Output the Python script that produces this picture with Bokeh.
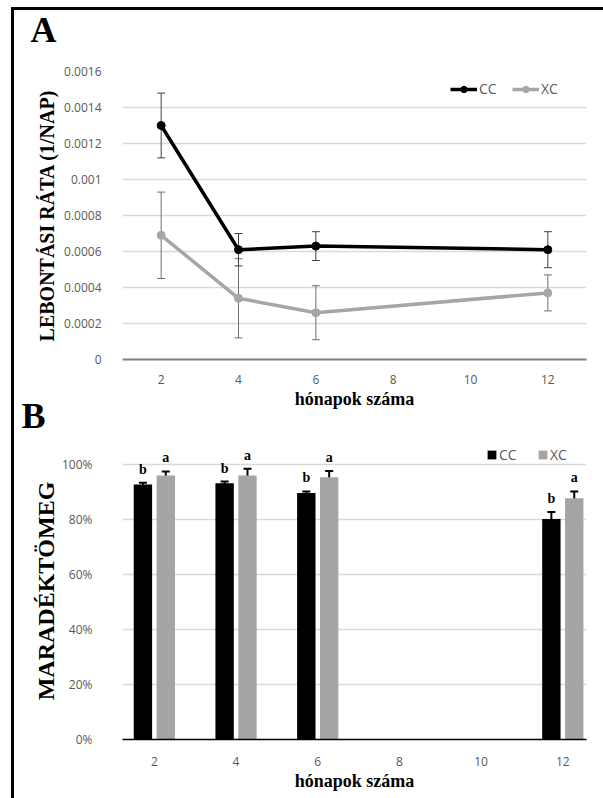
from bokeh.plotting import figure
from bokeh.models import (ColumnDataSource, FixedTicker, Whisker, TeeHead,
                          PrintfTickFormatter)
from bokeh.layouts import column
from bokeh.embed import file_html
from bokeh.resources import INLINE
from bokeh.core.properties import value
from bokeh.transform import dodge

# ---------------- data: panel A (decomposition rate) ----------------
months_a = [2, 4, 6, 12]
cc_rate = [0.00130, 0.00061, 0.00063, 0.00061]
cc_rate_err = [0.00018, 0.00009, 0.00008, 0.00010]
xc_rate = [0.00069, 0.00034, 0.00026, 0.00037]
xc_rate_err = [0.00024, 0.00022, 0.00015, 0.00010]
month_ticks = [2, 4, 6, 8, 10, 12]
rate_ticks = [0, 0.0002, 0.0004, 0.0006, 0.0008, 0.001, 0.0012, 0.0014, 0.0016]
rate_tick_labels = ["0", "0.0002", "0.0004", "0.0006", "0.0008", "0.001",
                    "0.0012", "0.0014", "0.0016"]

# ---------------- data: panel B (remaining mass) ----------------
months_b = [2, 4, 6, 12]
cc_mass = [92.7, 93.2, 89.6, 80.2]
cc_mass_err = [0.7, 0.6, 0.6, 2.5]
xc_mass = [96.0, 96.0, 95.4, 87.7]
xc_mass_err = [1.5, 2.5, 2.2, 2.5]
cc_letters = ["b", "b", "b", "b"]
xc_letters = ["a", "a", "a", "a"]
mass_ticks = [0, 20, 40, 60, 80, 100]

TICK_FONT = "Open Sans"
TITLE_FONT = "Liberation Serif"
TICK_COLOR = "#595959"
GRID_COLOR = "#d9d9d9"
CC_COLOR = "#000000"
XC_COLOR = "#a6a6a6"


def band(vals, errs, sign):
    return [v + sign * e for v, e in zip(vals, errs)]


def style_axes(p):
    for ax in (p.xaxis, p.yaxis):
        ax.major_tick_line_color = None
        ax.minor_tick_line_color = None
        ax.major_label_text_font = TICK_FONT
        ax.major_label_text_font_size = "12px"
        ax.major_label_text_color = TICK_COLOR
        ax.axis_label_text_font = TITLE_FONT
        ax.axis_label_text_font_style = "bold"
        ax.axis_label_text_color = "#000000"
    p.yaxis.axis_line_color = None
    p.outline_line_color = None
    p.xgrid.visible = False
    p.border_fill_alpha = 0


def panel_title(p, letter, offset, standoff):
    p.title.text = letter
    p.title.align = "left"
    p.title.vertical_align = "bottom"
    p.title.offset = offset
    p.title.standoff = standoff
    p.title.text_font = TITLE_FONT
    p.title.text_font_style = "bold"
    p.title.text_font_size = "36px"
    p.title.text_color = "#000000"


# ======================= Panel A =======================
pA = figure(width=589, height=433, x_range=(1, 13), y_range=(0, 0.0016),
            output_backend="svg", toolbar_location=None,
            min_border_left=108, min_border_right=17,
            min_border_top=86, min_border_bottom=59)
pA.margin = (-25, 0, 0, 0)
style_axes(pA)
panel_title(pA, "A", -92, 44)
pA.ygrid.ticker = FixedTicker(ticks=rate_ticks)
pA.ygrid.grid_line_color = GRID_COLOR
pA.ygrid.grid_line_width = 1.5
pA.xaxis.ticker = FixedTicker(ticks=month_ticks)
pA.yaxis.ticker = FixedTicker(ticks=rate_ticks)
pA.yaxis.major_label_overrides = dict(zip(rate_ticks, rate_tick_labels))
pA.xaxis.axis_line_color = "#7f7f7f"
pA.xaxis.axis_line_width = 2
pA.xaxis.major_label_standoff = 9
pA.yaxis.major_label_standoff = 15
pA.xaxis.axis_label = "hónapok száma"
pA.xaxis.axis_label_text_font_size = "18px"
pA.xaxis.axis_label_standoff = 2
pA.yaxis.axis_label = "LEBONTÁSI RÁTA (1/NAP)"
pA.yaxis.axis_label_text_font_size = "20px"
pA.yaxis.axis_label_standoff = 3

srcA_xc = ColumnDataSource(dict(x=months_a, y=xc_rate,
                                upper=band(xc_rate, xc_rate_err, 1),
                                lower=band(xc_rate, xc_rate_err, -1)))
srcA_cc = ColumnDataSource(dict(x=months_a, y=cc_rate,
                                upper=band(cc_rate, cc_rate_err, 1),
                                lower=band(cc_rate, cc_rate_err, -1)))

for src, col in ((srcA_xc, "#6f6f6f"), (srcA_cc, "#404040")):
    pA.add_layout(Whisker(source=src, base="x", upper="upper", lower="lower",
                          line_color=col, line_width=1,
                          upper_head=TeeHead(size=8, line_color=col, line_width=1),
                          lower_head=TeeHead(size=8, line_color=col, line_width=1)))

pA.line("x", "y", source=srcA_xc, line_color=XC_COLOR, line_width=3.5, legend_label="XC")
pA.scatter("x", "y", source=srcA_xc, size=8, color=XC_COLOR, legend_label="XC")
pA.line("x", "y", source=srcA_cc, line_color=CC_COLOR, line_width=3.5, legend_label="CC")
pA.scatter("x", "y", source=srcA_cc, size=8, color=CC_COLOR, legend_label="CC")

legA = pA.legend[0]
legA.items = [legA.items[1], legA.items[0]]
legA.orientation = "horizontal"
legA.location = (328, 261)
legA.background_fill_alpha = 0
legA.border_line_color = None
legA.padding = 0
legA.margin = 0
legA.spacing = 13
legA.glyph_width = 27
legA.glyph_height = 16
legA.label_standoff = 2
legA.label_text_font = TICK_FONT
legA.label_text_font_size = "14px"
legA.label_text_color = TICK_COLOR

# ======================= Panel B =======================
# the column aligns the plot frames, so B's frame equals A's; the x range is
# widened so that the month positions sit where the reference draws them
pB = figure(width=589, height=412, x_range=(1.22, 12.58), y_range=(0, 108),
            output_backend="svg", toolbar_location=None,
            min_border_left=108, min_border_right=17,
            min_border_top=56, min_border_bottom=59)
pB.margin = (-32, 0, 0, 0)
style_axes(pB)
panel_title(pB, "B", -101, 14)
pB.ygrid.ticker = FixedTicker(ticks=mass_ticks)
pB.ygrid.grid_line_color = GRID_COLOR
pB.ygrid.grid_line_width = 1.5
pB.xaxis.ticker = FixedTicker(ticks=month_ticks)
pB.yaxis.ticker = FixedTicker(ticks=mass_ticks)
pB.yaxis.formatter = PrintfTickFormatter(format="%d%%")
pB.xaxis.axis_line_color = "#000000"
pB.xaxis.axis_line_width = 1.5
pB.xaxis.major_label_standoff = 11
pB.yaxis.major_label_standoff = 24
pB.xaxis.axis_label = "hónapok száma"
pB.xaxis.axis_label_text_font_size = "18px"
pB.xaxis.axis_label_standoff = 2
pB.yaxis.axis_label = "MARADÉKTÖMEG"
pB.yaxis.axis_label_text_font_size = "24px"
pB.yaxis.axis_label_standoff = 0

srcB = ColumnDataSource(dict(
    x=months_b, cc=cc_mass, xc=xc_mass,
    cc_up=band(cc_mass, cc_mass_err, 1), cc_lo=band(cc_mass, cc_mass_err, -1),
    xc_up=band(xc_mass, xc_mass_err, 1), xc_lo=band(xc_mass, xc_mass_err, -1),
    cc_lab=cc_letters, xc_lab=xc_letters))

OFF = 0.28
W = 0.45
pB.vbar(x=dodge("x", -OFF, range=pB.x_range), top="cc", width=W, source=srcB,
        fill_color=CC_COLOR, line_color=None, legend_label="CC")
pB.vbar(x=dodge("x", OFF, range=pB.x_range), top="xc", width=W, source=srcB,
        fill_color="#a5a5a5", line_color=None, legend_label="XC")

for off, up, lo in ((-OFF, "cc_up", "cc_lo"), (OFF, "xc_up", "xc_lo")):
    pB.add_layout(Whisker(source=srcB, base=dodge("x", off, range=pB.x_range),
                          upper=up, lower=lo, line_color="#000000", line_width=2,
                          upper_head=TeeHead(size=8, line_color="#000000", line_width=2),
                          lower_head=TeeHead(size=8, line_color="#000000", line_width=2)))

for off, ycol, lab in ((-OFF, "cc_up", "cc_lab"), (OFF, "xc_up", "xc_lab")):
    pB.text(x=dodge("x", off, range=pB.x_range), y=ycol, text=lab, source=srcB,
            text_font=value(TITLE_FONT), text_font_style="bold",
            text_font_size="14px", text_align="center", text_baseline="bottom",
            y_offset=-6, text_color="#000000")

legB = pB.legend[0]
legB.orientation = "horizontal"
legB.location = (364, 275)
legB.background_fill_alpha = 0
legB.border_line_color = None
legB.padding = 0
legB.margin = 0
legB.spacing = 18
legB.glyph_width = 11
legB.glyph_height = 11
legB.label_standoff = 2
legB.label_text_font = TICK_FONT
legB.label_text_font_size = "14px"
legB.label_text_color = TICK_COLOR

layout = column(pA, pB, spacing=0, margin=(7, 0, 0, 11),
                styles={"border-top": "3px solid black", "border-left": "3px solid black"})

html = file_html(layout, INLINE)
with open("out.html", "w") as f:
    f.write(html)
